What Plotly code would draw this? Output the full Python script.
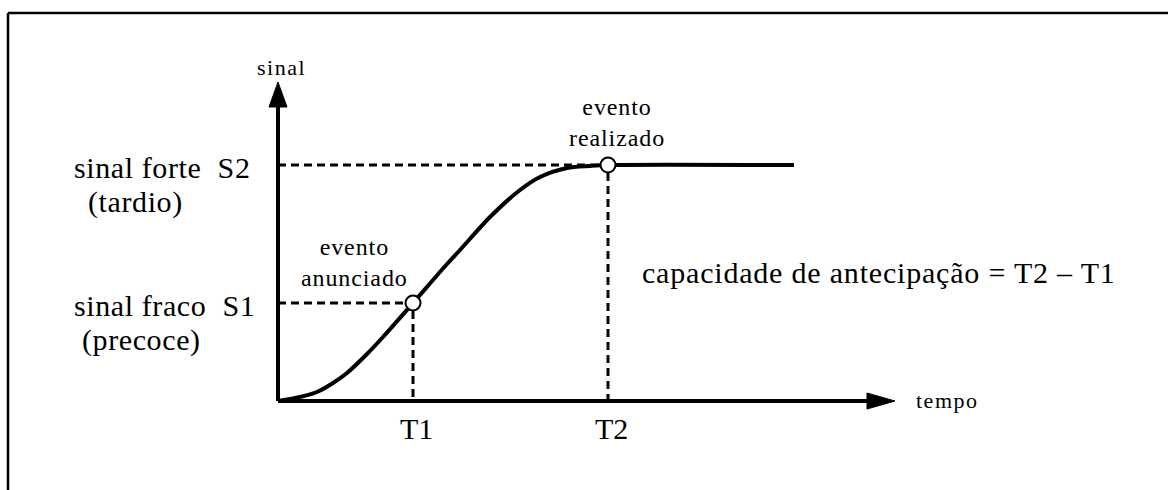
"""Sinal fraco / sinal forte - capacidade de antecipacao"""
import plotly.graph_objects as go

# curve of signal over time (units: offset from origin)
tempo = [0, 22, 39, 55, 69, 89, 105, 135, 169, 182, 212, 242, 262, 289, 312, 330, 516]
sinal = [0, 4, 9, 18, 28, 47, 64, 98, 137, 151, 184, 211, 224, 233, 235, 236, 236]

# events
event_t = [135, 330]      # T1, T2
event_s = [98, 236]       # S1, S2
event_labels = ['evento<br>anunciado', 'evento<br>realizado']
time_labels = ['T1', 'T2']
signal_labels = ['sinal\u00a0fraco\u00a0\u00a0S1', 'sinal\u00a0forte\u00a0\u00a0S2']
signal_notes = ['(precoce)', '(tardio)']

FONT = 'Liberation Serif'
BLACK = '#000000'


def spaced(text, px):
    # wide letter spacing like the original drawing
    return '<br>'.join('<span style="letter-spacing:%.1fpx">%s</span>' % (px, part)
                       for part in text.split('<br>'))


fig = go.Figure()

# dashed guides
for t, s in zip(event_t, event_s):
    fig.add_trace(go.Scatter(
        x=[0, t, t], y=[s, s, 0],
        mode='lines',
        line=dict(color=BLACK, width=3, dash='8px,5px'),
        hoverinfo='skip',
    ))

# main curve
fig.add_trace(go.Scatter(
    x=tempo, y=sinal,
    mode='lines',
    line=dict(color=BLACK, width=4, shape='spline', smoothing=0.8),
    hoverinfo='skip',
))

# event markers
fig.add_trace(go.Scatter(
    x=event_t, y=event_s,
    mode='markers',
    marker=dict(size=15, color='white', line=dict(color=BLACK, width=2)),
    hoverinfo='skip',
))

shapes = [
    # frame (top and left only)
    dict(type='line', x0=-270, y0=388, x1=900, y1=388, line=dict(color=BLACK, width=2.5)),
    dict(type='line', x0=-270, y0=388, x1=-270, y1=-100, line=dict(color=BLACK, width=2.5)),
    # axes
    dict(type='line', x0=0, y0=0, x1=0, y1=296, line=dict(color=BLACK, width=4)),
    dict(type='line', x0=0, y0=0, x1=592, y1=0, line=dict(color=BLACK, width=4)),
    dict(type='path', path='M -9 294 L 9 294 L 0 319 Z', fillcolor=BLACK, line=dict(color=BLACK, width=1)),
    dict(type='path', path='M 589 8 L 589 -8 L 617 0 Z', fillcolor=BLACK, line=dict(color=BLACK, width=1)),
]

annotations = [
    dict(x=-23, y=334, text=spaced('sinal', 1.5), xanchor='left', font=dict(size=22)),
    dict(x=636, y=1, text=spaced('tempo', 1.5), xanchor='left', font=dict(size=22)),
    dict(x=362, y=129, text=spaced('capacidade de antecipação = T2 – T1', 0.8),
         xanchor='left', font=dict(size=30)),
]
for t, lab in zip(event_t, time_labels):
    annotations.append(dict(x=t + 3, y=-27, text=lab, font=dict(size=30)))
for s, lab, note, dx in zip(event_s, signal_labels, signal_notes, [-198, -192]):
    annotations.append(dict(x=-206, y=s - 2, text=spaced(lab, 0.6), xanchor='left', font=dict(size=30)))
    annotations.append(dict(x=dx, y=s - 37, text=spaced(note, 0.6), xanchor='left', font=dict(size=30)))
annotations.append(dict(x=76, y=139, text=spaced(event_labels[0], 0.9), font=dict(size=24)))
annotations.append(dict(x=339, y=279, text=spaced(event_labels[1], 0.9), font=dict(size=24)))
for a in annotations:
    a.setdefault('xanchor', 'center')
    a.update(showarrow=False, yanchor='middle', font=dict(family=FONT, color=BLACK, **a['font']))

fig.update_layout(
    width=1168,
    height=490,
    margin=dict(l=0, r=0, t=0, b=0),
    paper_bgcolor='white',
    plot_bgcolor='white',
    showlegend=False,
    xaxis=dict(range=[-278, 890], visible=False, fixedrange=True),
    yaxis=dict(range=[-89, 401], visible=False, fixedrange=True),
    shapes=shapes,
    annotations=annotations,
)

fig.write_html("out.html", config={'displayModeBar': False},
               post_script="document.body.style.margin='0';")
